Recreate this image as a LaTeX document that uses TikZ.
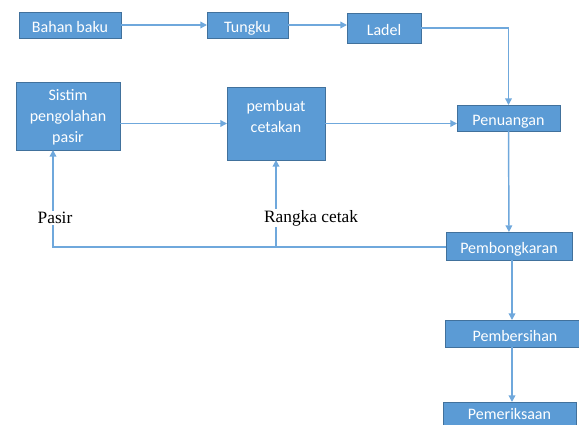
\documentclass[tikz,border=0pt]{standalone}
\usepackage{fontspec}
\setmainfont{Carlito}
\newfontfamily\labelfont{Liberation Serif}
\usetikzlibrary{arrows.meta}

\definecolor{biru}{HTML}{5B9BD5}
\definecolor{tepi}{HTML}{41719C}
\definecolor{garis}{HTML}{6FA8DC}

\tikzset{
  kotak/.style={draw=tepi,fill=biru,text=white,line width=0.75pt,
                inner sep=0pt,outer sep=0pt,
                font=\fontsize{12}{15.75}\selectfont},
  satu/.style={kotak,text height=12.5pt,text depth=1pt},
  banyak/.style={kotak,align=center},
  ket/.style={fill=white,text=black,inner sep=1pt,
              font=\labelfont\fontsize{13}{15}\selectfont}
}

\begin{document}
\begin{tikzpicture}[x=0.75pt,y=-0.75pt,->,>={Triangle[length=5pt,width=5pt]},
                    line width=1.1pt,garis]
  \useasboundingbox (0,0) rectangle (579,425);

  \node[satu,minimum width=76.5pt,minimum height=19.5pt]  (bahan)   at (70,25)    {Bahan baku};
  \node[satu,minimum width=60.75pt,minimum height=19.5pt] (tungku)  at (247.5,25) {Tungku};
  \node[satu,minimum width=55.5pt,minimum height=22.5pt]  (ladel)   at (384,28)   {Ladel};
  \node[banyak,minimum width=78pt,minimum height=51pt,
        text depth=-4pt]                                  (sistim)  at (68,116)   {Sistim\\pengolahan\\pasir};
  \node[banyak,minimum width=73.5pt,minimum height=54.75pt,
        text depth=11pt]                                  (pembuat) at (276,123.5) {pembuat\\cetakan};
  \node[satu,minimum width=77.25pt,minimum height=19.5pt] (penuangan)    at (508.5,118) {Penuangan};
  \node[satu,minimum width=94.5pt,minimum height=21pt]    (pembongkaran) at (509,246)   {Pembongkaran};
  \node[satu,minimum width=105pt,minimum height=20.25pt]  (pembersihan)  at (515,333.5) {Pembersihan};
  \node[satu,minimum width=99.75pt,minimum height=20.25pt,
        text height=8pt,text depth=2pt]                   (pemeriksaan) at (509.5,415.5) {Pemeriksaan};

  \coordinate (belok) at (53,247);

  \draw (bahan) -- (tungku);
  \draw (tungku.east) -- (tungku.east -| ladel.west);
  \draw (ladel) -| (penuangan);
  \draw (sistim.east |- pembuat) -- (pembuat.west);
  \draw (pembuat.east) -- (pembuat.east -| penuangan.west);
  \draw (penuangan) -- (pembongkaran);
  \draw (pembongkaran.west |- belok) -- (belok) -- (belok |- sistim.south);
  \draw (pembuat.south |- belok) -- (pembuat.south);
  \draw ([xshift=2.25pt]pembongkaran.south)
        -- ([xshift=2.25pt]pembongkaran.south |- pembersihan.north);
  \draw ([xshift=2.25pt]pembongkaran.south |- pembersihan.south)
        -- ([xshift=2.25pt]pembongkaran.south |- pemeriksaan.north);

  \node[ket] (pasir)  at (55,218)  {Pasir};
  \node[ket] (rangka) at (311,218) {Rangka cetak};
\end{tikzpicture}
\end{document}
